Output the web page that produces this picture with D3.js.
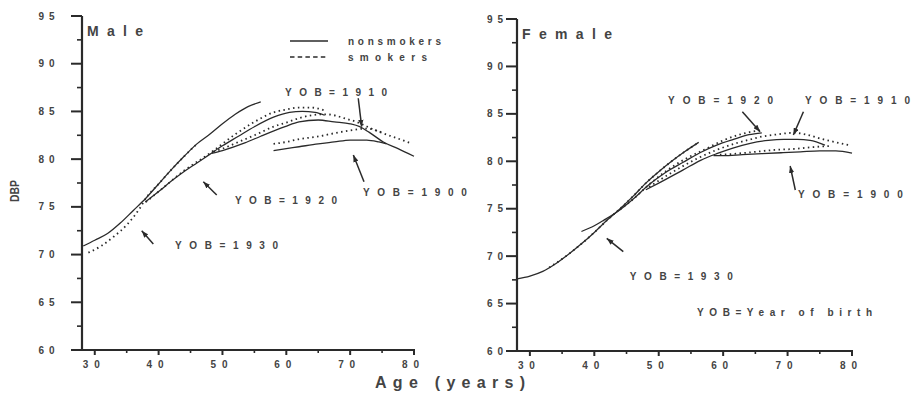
<!DOCTYPE html>
<html>
<head>
<meta charset="utf-8">
<script src="https://cdn.jsdelivr.net/npm/d3@7"></script>
<style>
  body { margin: 0; background: #fff; }
  svg { display: block; font-family: 'Liberation Sans', Arial, sans-serif; }
</style>
</head>
<body>
<svg id="chart" width="913" height="394"></svg>
<script>
// axis ticks
const ageTicks = [30, 40, 50, 60, 70, 80];
const ageMinorTicks = [35, 45, 55, 65, 75];
const dbpTicks = [60, 65, 70, 75, 80, 85, 90, 95];
const dbpMinorTicks = [62.5, 67.5, 72.5, 77.5, 82.5, 87.5, 92.5];

// male cohorts, [age, DBP]
const maleNon1930 = [[28.2, 70.9], [30, 71.5], [32, 72.2], [34, 73.3], [36, 74.6], [38, 75.9], [40, 77.4], [42, 78.9], [44, 80.3], [46, 81.6], [48, 82.6], [50, 83.7], [52, 84.7], [54, 85.5], [56, 86.0]];
const maleSmk1930 = [[29, 70.2], [31, 70.9], [33, 71.9], [35, 73.1], [37, 74.8], [38, 75.9], [40, 77.4], [42, 78.9], [44, 80.3], [46, 81.6]];
const maleNon1920 = [[37.9, 75.5], [40, 76.6], [42, 77.7], [44, 78.7], [46, 79.6], [48, 80.5], [50, 81.4], [52.5, 82.4], [55, 83.4], [58, 84.4], [60.5, 84.9], [62.5, 85.0], [64.5, 84.9], [66, 84.6]];
const maleSmk1920 = [[38, 75.5], [40, 76.6], [44, 78.8], [48, 80.6], [52, 82.6], [55, 83.9], [58, 84.9], [60, 85.2], [62, 85.4], [64, 85.4], [66, 85.1]];
const maleNon1910 = [[48.3, 80.6], [50, 80.9], [53.5, 81.7], [56, 82.4], [59.8, 83.4], [62, 83.9], [65, 84.1], [67.5, 83.9], [70, 83.7], [71.5, 83.4], [73, 82.8], [75.2, 81.8], [77.5, 81.1], [80, 80.3]];
const maleSmk1910 = [[48.6, 80.8], [50, 81.1], [52.5, 81.8], [55, 82.5], [58, 83.4], [60.3, 83.9], [62, 84.3], [64, 84.6], [66, 84.7], [67.5, 84.6], [69, 84.3], [71, 83.9], [73, 83.3], [75.2, 82.7], [77.3, 82.2], [79.4, 81.7]];
const maleNon1900 = [[58, 80.9], [60, 81.1], [62, 81.3], [65, 81.6], [67.5, 81.8], [70, 82.0], [72.6, 82.0], [74.5, 81.8], [75.7, 81.6]];
const maleSmk1900 = [[58, 81.6], [60, 81.8], [62, 82.1], [64.8, 82.35], [67.4, 82.7], [70, 83.0], [72.5, 83.2], [75, 82.8]];

// female cohorts, [age, DBP]
const femaleNon1930 = [[28, 67.6], [30, 67.9], [32, 68.4], [34, 69.2], [36, 70.2], [38, 71.3], [40, 72.5], [42, 73.8], [44, 75.0], [46, 76.3], [48, 77.7], [50, 78.9], [52, 80.0], [54, 81.0], [56.2, 82.0]];
const femaleSmk1930 = [[33, 68.8], [36, 70.2], [38, 71.3], [40, 72.5], [42, 73.8], [44, 75.0], [46, 76.3], [48, 77.7], [50, 78.9], [52, 80.0], [54, 81.0], [56, 81.9]];
const femaleNon1920 = [[38, 72.6], [40, 73.2], [41.5, 73.8], [44, 74.9], [46, 76.0], [48.6, 77.6], [51, 78.8], [53.8, 79.9], [56.4, 80.9], [59, 81.7], [61.6, 82.3], [64, 82.8], [66, 83.0]];
const femaleSmk1920 = [[44, 74.9], [46, 76.0], [48.6, 77.6], [51, 78.9], [54, 80.2], [57, 81.2], [60, 82.2], [63, 82.9], [66, 83.3]];
const femaleNon1910 = [[48, 77.0], [50, 77.7], [53.8, 79.1], [56.5, 80.1], [59, 80.8], [61.5, 81.4], [64.2, 81.9], [67, 82.2], [69.4, 82.3], [71.5, 82.3], [73.5, 82.2], [75.8, 81.7]];
const femaleSmk1910 = [[48.5, 77.3], [52, 78.8], [56, 80.3], [59, 81.2], [62, 81.9], [64.2, 82.3], [66, 82.6], [68, 82.8], [70.9, 83.0], [73, 82.8], [75.6, 82.3], [77.5, 82.0], [79.5, 81.7]];
const femaleNon1900 = [[58.5, 80.6], [60, 80.6], [63, 80.7], [66, 80.8], [69, 80.9], [72, 81.0], [75, 81.1], [77.5, 81.1], [80, 80.85]];
const femaleSmk1900 = [[59.5, 80.7], [62, 80.8], [65, 81.0], [68, 81.2], [71, 81.3], [74, 81.5], [76.5, 81.6]];

const INK = '#2a2a2a';
const TEXT = '#444';
const DOTS = '1.5,3.4';

const panels = [
    {
        title: 'Male', titleWidth: 56, xRange: [82, 414], yRange: [350, 16],
        yLabelGap: 43.5, legend: true,
        curves: [
            { points: maleNon1930, smoker: false }, { points: maleSmk1930, smoker: true },
            { points: maleNon1920, smoker: false }, { points: maleSmk1920, smoker: true },
            { points: maleNon1910, smoker: false }, { points: maleSmk1910, smoker: true },
            { points: maleNon1900, smoker: false }, { points: maleSmk1900, smoker: true }
        ],
        notes: [
            { text: 'YOB=1910', age: 59.8, dbp: 86.96, width: 102, arrow: [[71.27, 86.38], [71.8, 83.4]] },
            { text: 'YOB=1900', age: 72.0, dbp: 76.48, width: 104, arrow: [[72.17, 77.64], [70.5, 80.43]] },
            { text: 'YOB=1920', age: 51.96, dbp: 75.65, width: 102, arrow: [[49.1, 76.24], [47.0, 77.64]] },
            { text: 'YOB=1930', age: 42.57, dbp: 70.93, width: 103, arrow: [[39.17, 71.1], [37.35, 72.5]] }
        ]
    },
    {
        title: 'Female', titleWidth: 90, xRange: [517, 852], yRange: [351, 19],
        yLabelGap: 30, legend: false,
        curves: [
            { points: femaleNon1930, smoker: false }, { points: femaleSmk1930, smoker: true },
            { points: femaleNon1920, smoker: false }, { points: femaleSmk1920, smoker: true },
            { points: femaleNon1910, smoker: false }, { points: femaleSmk1910, smoker: true },
            { points: femaleNon1900, smoker: false }, { points: femaleSmk1900, smoker: true }
        ],
        notes: [
            { text: 'YOB=1920', age: 51.45, dbp: 86.46, width: 105, arrow: [[62.98, 85.23], [65.73, 83.12]] },
            { text: 'YOB=1910', age: 72.7, dbp: 86.46, width: 105, arrow: [[72.46, 85.23], [70.9, 82.77]] },
            { text: 'YOB=1900', age: 71.6, dbp: 76.55, width: 105, arrow: [[71.2, 76.97], [70.4, 79.5]] },
            { text: 'YOB=1930', age: 45.5, dbp: 67.9, width: 103, arrow: [[44.5, 70.47], [41.93, 71.88]] },
            { text: 'YOB=Year of birth', age: 55.95, dbp: 64.04, width: 175 }
        ]
    }
];

const svg = d3.select('#chart');

svg.append('defs').append('marker')
    .attr('id', 'head')
    .attr('viewBox', '0 0 8 6')
    .attr('markerUnits', 'userSpaceOnUse')
    .attr('markerWidth', 7)
    .attr('markerHeight', 5.5)
    .attr('refX', 8)
    .attr('refY', 3)
    .attr('orient', 'auto')
    .append('path')
    .attr('d', 'M0,0L8,3L0,6Z')
    .attr('fill', INK);

const spaced = (sel, width) => sel
    .attr('textLength', width)
    .attr('lengthAdjust', 'spacing');

function drawPanel(p) {
    const x = d3.scaleLinear().domain([28, 80]).range(p.xRange);
    const y = d3.scaleLinear().domain([60, 95]).range(p.yRange);
    const x0 = p.xRange[0];
    const y0 = p.yRange[0];
    const g = svg.append('g');

    // axis lines
    g.append('line')
        .attr('x1', x0).attr('x2', x0)
        .attr('y1', y(95)).attr('y2', y(60) + 1)
        .attr('stroke', INK).attr('stroke-width', 2.2);
    g.append('line')
        .attr('x1', x0).attr('x2', x(80) + 1)
        .attr('y1', y0).attr('y2', y0)
        .attr('stroke', INK).attr('stroke-width', 2);

    // y ticks, major and minor
    const yTicks = dbpTicks.map(v => ({ v, len: 11 })).concat(dbpMinorTicks.map(v => ({ v, len: 5 })));
    g.append('g')
        .selectAll('line')
        .data(yTicks)
        .join('line')
        .attr('x1', d => x0 - d.len)
        .attr('x2', x0)
        .attr('y1', d => y(d.v))
        .attr('y2', d => y(d.v))
        .attr('stroke', INK)
        .attr('stroke-width', d => (d.len > 5 ? 2 : 1.6));

    g.append('g')
        .selectAll('text')
        .data(dbpTicks)
        .join('text')
        .attr('x', x0 - p.yLabelGap)
        .attr('y', d => y(d))
        .attr('dy', '0.36em')
        .attr('font-size', 10)
        .attr('font-weight', 'bold')
        .attr('fill', TEXT)
        .text(d => d)
        .call(spaced, 16);

    // x ticks, major and minor
    const xTicks = ageTicks.map(v => ({ v, len: 5 })).concat(ageMinorTicks.map(v => ({ v, len: 3 })));
    g.append('g')
        .selectAll('line')
        .data(xTicks)
        .join('line')
        .attr('x1', d => x(d.v))
        .attr('x2', d => x(d.v))
        .attr('y1', y0)
        .attr('y2', d => y0 + d.len)
        .attr('stroke', INK)
        .attr('stroke-width', d => (d.len > 3 ? 2 : 1.6));

    g.append('g')
        .selectAll('text')
        .data(ageTicks)
        .join('text')
        .attr('x', d => x(d) - 12)
        .attr('y', y0 + 18)
        .attr('font-size', 10)
        .attr('font-weight', 'bold')
        .attr('fill', TEXT)
        .text(d => d)
        .call(spaced, 17);

    // panel title
    g.append('text')
        .attr('x', x0 + 5)
        .attr('y', p.yRange[1] + 20)
        .attr('font-size', 14)
        .attr('font-weight', 'bold')
        .attr('fill', TEXT)
        .text(p.title)
        .call(spaced, p.titleWidth);

    // curves
    const line = d3.line()
        .x(d => x(d[0]))
        .y(d => y(d[1]))
        .curve(d3.curveMonotoneX);

    g.append('g')
        .selectAll('path')
        .data(p.curves)
        .join('path')
        .attr('d', d => line(d.points))
        .attr('fill', 'none')
        .attr('stroke', INK)
        .attr('stroke-width', d => (d.smoker ? 1.8 : 1.3))
        .attr('stroke-dasharray', d => (d.smoker ? DOTS : null));

    // cohort notes and arrows
    const notes = g.append('g');
    notes.selectAll('text')
        .data(p.notes)
        .join('text')
        .attr('x', d => x(d.age))
        .attr('y', d => y(d.dbp))
        .attr('dy', '0.36em')
        .attr('font-size', 10)
        .attr('font-weight', 'bold')
        .attr('fill', TEXT)
        .text(d => d.text)
        .each(function (d) { d3.select(this).call(spaced, d.width); });

    notes.selectAll('line')
        .data(p.notes.filter(d => d.arrow))
        .join('line')
        .attr('x1', d => x(d.arrow[0][0]))
        .attr('y1', d => y(d.arrow[0][1]))
        .attr('x2', d => x(d.arrow[1][0]))
        .attr('y2', d => y(d.arrow[1][1]))
        .attr('stroke', INK)
        .attr('stroke-width', 1.5)
        .attr('marker-end', 'url(#head)');

    if (p.legend) {
        const lg = g.append('g').attr('transform', 'translate(290,41)');
        const rows = [
            { label: 'nonsmokers', width: 93, smoker: false },
            { label: 'smokers', width: 79, smoker: true }
        ];
        const row = lg.selectAll('g')
            .data(rows)
            .join('g')
            .attr('transform', (d, i) => `translate(0,${i * 16})`);
        row.append('line')
            .attr('x1', 0)
            .attr('x2', 38)
            .attr('stroke', INK)
            .attr('stroke-width', 1.3)
            .attr('stroke-dasharray', d => (d.smoker ? '4.5,3.2' : null));
        row.append('text')
            .attr('x', 58)
            .attr('y', 3.5)
            .attr('font-size', 10)
            .attr('font-weight', 'bold')
            .attr('fill', TEXT)
            .text(d => d.label)
            .each(function (d) { d3.select(this).call(spaced, d.width); });
    }
}

panels.forEach(drawPanel);

// shared axis titles
svg.append('text')
    .attr('x', 375)
    .attr('y', 387.5)
    .attr('font-size', 16)
    .attr('font-weight', 'bold')
    .attr('fill', TEXT)
    .text('Age (years)')
    .call(spaced, 150);

svg.append('text')
    .attr('transform', 'translate(19,191) rotate(-90)')
    .attr('text-anchor', 'middle')
    .attr('font-size', 12)
    .attr('font-weight', 'bold')
    .attr('fill', TEXT)
    .text('DBP')
    .attr('textLength', 22)
    .attr('lengthAdjust', 'spacingAndGlyphs');
</script>
</body>
</html>
